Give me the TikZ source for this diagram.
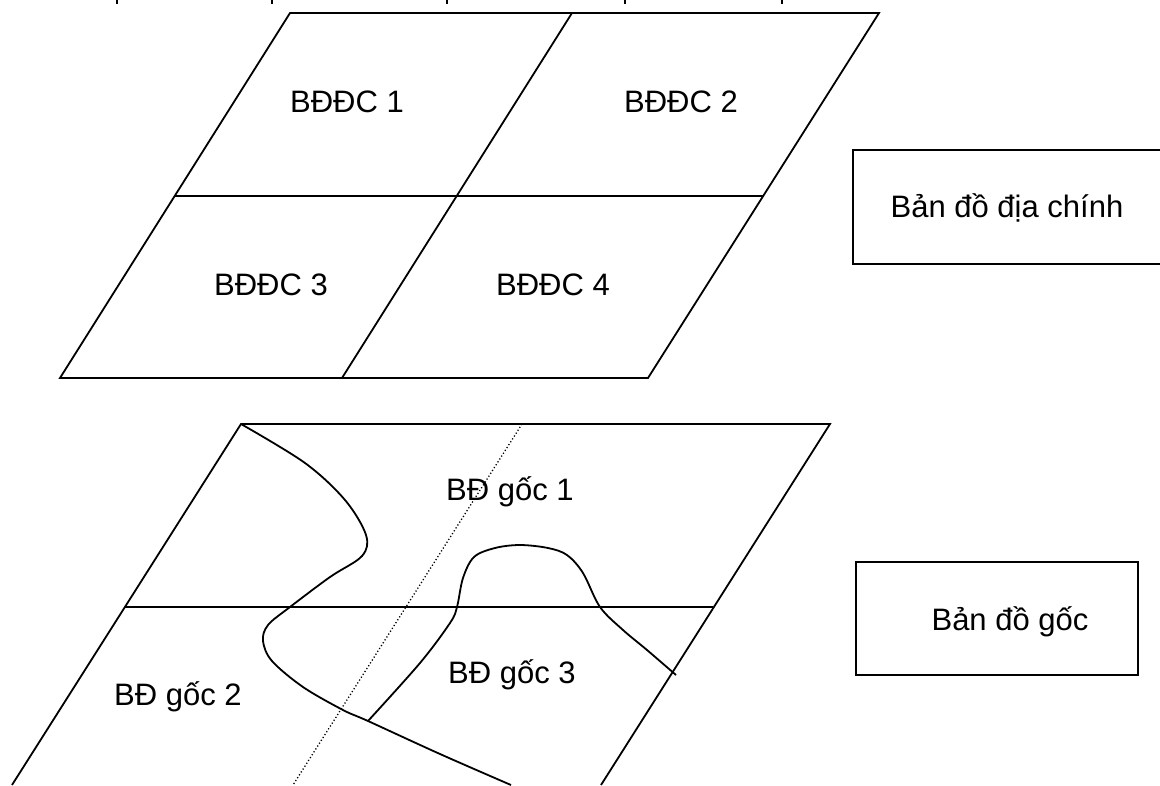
\documentclass[tikz,border=0pt]{standalone}
\usepackage{fontspec}
\setmainfont{Liberation Sans}
\begin{document}
\begin{tikzpicture}[x=1pt,y=-1pt,
  edge/.style={line width=1.8pt,line join=miter},
  dotline/.style={line width=1.3pt,dash pattern=on 1.2pt off 2.2pt},
  frame/.style={line width=2.2pt},
  lbl/.style={inner sep=0pt,anchor=base,font=\fontsize{31}{37}\selectfont}]
\useasboundingbox (0,0) rectangle (1160,785);
\clip (0,0) rectangle (1160,785);
% tiny cut-off marks at the top
\foreach \xx in {117,272,447,625,782}{\draw[line width=1.5pt] (\xx,0) -- (\xx,4);}
% top parallelogram
\coordinate (tA) at (290,13);
\coordinate (tB) at (572,13);
\coordinate (tC) at (879,13);
\coordinate (tD) at (648,378);
\coordinate (tE) at (342,378);
\coordinate (tF) at (60,378);
\coordinate (tML) at (175,196);
\coordinate (tMR) at (763,196);
\draw[edge] (tA) -- (tC) -- (tD) -- (tF) -- cycle;
\draw[edge] (tB) -- (tE);
\draw[edge] (tML) -- (tMR);
\node[lbl] (d1) at (347,112) {BĐĐC 1};
\node[lbl] (d2) at (681,112) {BĐĐC 2};
\node[lbl] (d3) at (271,295) {BĐĐC 3};
\node[lbl] (d4) at (553,295) {BĐĐC 4};
% right boxes
\draw[frame] (1162,150) -- (853,150) -- (853,264) -- (1162,264);
\node[lbl] (bdc) at (1007,217) {Bản đồ địa chính};
\draw[frame] (856,562) rectangle (1138,675);
\node[lbl] (bg) at (1010,630) {Bản đồ gốc};
% bottom parallelogram
\coordinate (bA) at (241,424);
\coordinate (bC) at (830,424);
\coordinate (bL) at (12,785);
\coordinate (bR) at (601,785);
\coordinate (bML) at (125,607);
\coordinate (bMR) at (713,607);
\coordinate (dT) at (522,424);
\coordinate (dB) at (293,785);
\draw[edge] (bL) -- (bA) -- (bC) -- (bR);
\draw[edge] (bML) -- (bMR);
\draw[dotline] (dT) -- (dB);
% curves
\draw[edge] plot[smooth,tension=0.55] coordinates {(241,424) (305,463) (345,500) (366,535) (362,556) (330,577) (290,607) (268,625) (263,641) (272,661) (303,687) (343,710) (368,721) (440,754) (511,785)};
\draw[edge] plot[smooth,tension=0.55] coordinates {(368,721) (420,663) (450,623) (457,607) (463,578) (474,557) (495,548) (520,545) (548,548) (567,555) (583,573) (600,607) (623,630) (647,650) (676,675)};
\node[lbl] (g1) at (510,500) {BĐ gốc 1};
\node[lbl] (g3) at (512,683) {BĐ gốc 3};
\node[lbl] (g2) at (178,705) {BĐ gốc 2};
\end{tikzpicture}
\end{document}
